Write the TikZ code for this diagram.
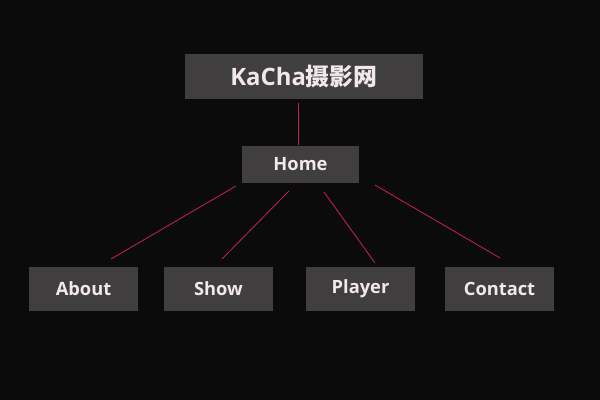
\documentclass[tikz,border=0pt]{standalone}
\usepackage{fontspec}
\setmainfont{Open Sans}
\newfontfamily\cjk{Noto Sans CJK SC}
\definecolor{kcbg}{RGB}{12,11,11}
\definecolor{kcbox}{RGB}{64,62,62}
\definecolor{kctext}{RGB}{242,232,234}
\definecolor{kcline}{RGB}{196,32,72}
\usetikzlibrary{positioning}

\begin{document}
\begin{tikzpicture}[x=0.025cm,y=-0.025cm,
    pagebox/.style={fill=kcbox,inner sep=0pt,text=kctext,font=\bfseries\fontsize{13}{15}\selectfont,
        minimum width=2.725cm,minimum height=1.1cm},
    link/.style={draw=kcline,line width=0.6pt}]
  % background
  \fill[kcbg] (0,0) rectangle (600,400);
  % Title
  \node[pagebox,minimum width=5.95cm,minimum height=1.125cm,
        font=\bfseries\fontsize{17}{19}\selectfont]
        (title) at (304,76.5) {KaCha{\cjk 摄影网}};
  % Home
  \node[pagebox,minimum width=2.925cm,minimum height=0.925cm] (home) at (300.5,164.5) {Home};
  % Pages
  \node[pagebox] (about)   at (83.5,289)  {About};
  \node[pagebox] (show)    at (218.5,289) {Show};
  \node[pagebox] (player)  at (360.5,289) {Player};
  \node[pagebox] (contact) at (499.5,289) {Contact};
  % line ends
  \coordinate (t1) at (298,103);  \coordinate (h0) at (298,145);
  \coordinate (h1) at (236,186);  \coordinate (a1) at (111,259);
  \coordinate (h2) at (289,191);  \coordinate (s1) at (222,259);
  \coordinate (h3) at (324,192);  \coordinate (p1) at (375,263);
  \coordinate (h4) at (375,185);  \coordinate (c1) at (500,258);
  % Links
  \draw[link] (t1) -- (h0);
  \draw[link] (h1) -- (a1);
  \draw[link] (h2) -- (s1);
  \draw[link] (h3) -- (p1);
  \draw[link] (h4) -- (c1);
\end{tikzpicture}
\end{document}
